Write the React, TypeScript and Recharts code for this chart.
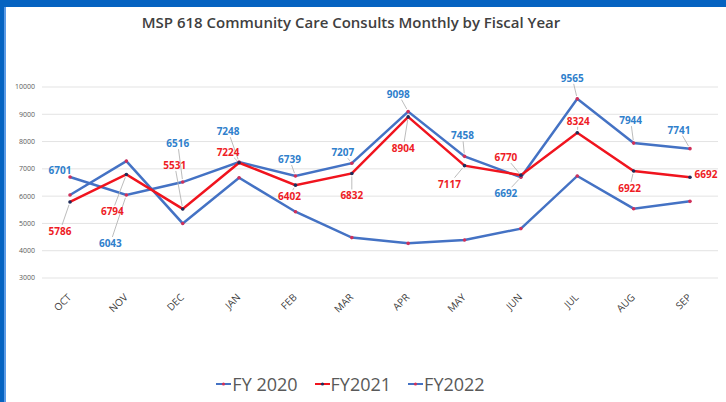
import React from 'react';
import { LineChart, Line, XAxis, YAxis, CartesianGrid, LabelList, Legend } from 'recharts';

const months = ['OCT', 'NOV', 'DEC', 'JAN', 'FEB', 'MAR', 'APR', 'MAY', 'JUN', 'JUL', 'AUG', 'SEP'];
const fy2020 = [6701, 6043, 6516, 7248, 6739, 7207, 9098, 7458, 6692, 9565, 7944, 7741];
const fy2021 = [5786, 6794, 5531, 7224, 6402, 6832, 8904, 7117, 6770, 8324, 6922, 6692];
const fy2022 = [6040, 7285, 5000, 6675, 5430, 4480, 4270, 4395, 4810, 6740, 5540, 5810];
const yTicks = [3000, 4000, 5000, 6000, 7000, 8000, 9000, 10000];

// label placement offsets (pixels from the point), layout only
const offsets2020 = [[-10, -7], [-16, 48], [-5, -39], [-11, -31], [-6, -17], [-9, -11], [-10, -18], [-2, -21], [-15, 16], [-5, -21], [-3, -23], [-11, -19]];
const offsets2021 = [[-10, 29], [-14, 37], [-8, -44], [-11, -11], [-6, 11], [0, 22], [-5, 31], [-15, 18], [-15, -18], [1, -12], [-4, 17], [16, -3]];

const data = months.map((m, i) => ({ month: m, fy2020: fy2020[i], fy2021: fy2021[i], fy2022: fy2022[i] }));

const BLUE = '#4472C4';
const RED = '#F0141E';
const LABEL_BLUE = '#2F80CC';
const LABEL_RED = '#EE1C25';
const FONT = '"Open Sans", "Liberation Sans", sans-serif';

const makeLabel = (offsets: number[][], color: string, series: number[]) => (props: any) => {
  const { x, y, value } = props;
  let index = props.index;
  if (index === undefined || index === null) index = series.indexOf(value);
  const off = offsets[index] || [0, -10];
  const dx = off[0];
  const dy = off[1];
  const tx = x + dx;
  const ty = y + dy;
  const hw = 13;
  const hh = 6;
  const adx = Math.abs(dx);
  const ady = Math.abs(dy);
  let leader = null;
  const t = Math.max(adx / hw, ady / hh);
  if (t > 1.3) {
    const ex = tx - dx / t;
    const ey = ty - dy / t;
    const len = Math.sqrt(dx * dx + dy * dy);
    const sx = x + (dx * 3) / len;
    const sy = y + (dy * 3) / len;
    leader = <line x1={sx} y1={sy} x2={ex} y2={ey} stroke="#B4B4B4" strokeWidth={0.9} />;
  }
  return (
    <g key={`lbl-${color}-${index}`}>
      {leader}
      <text x={tx} y={ty} textAnchor="middle" dominantBaseline="central" fontSize={10} fontWeight={700} fill={color} fontFamily={FONT}>
        {value}
      </text>
    </g>
  );
};

const XTick = (props: any) => {
  const { x, y, payload } = props;
  return (
    <g transform={`translate(${x + 2},${y + 12}) rotate(-45)`}>
      <text x={0} y={0} textAnchor="end" fontSize={10} fill="#404040" fontFamily={FONT}>
        {payload.value}
      </text>
    </g>
  );
};

const LegendIcon = ({ line, dot }: { line: string; dot: string }) => (
  <svg width={15} height={10} style={{ display: 'block', marginRight: 1 }}>
    <line x1={0} y1={5} x2={15} y2={5} stroke={line} strokeWidth={2} />
    <circle cx={7.5} cy={5} r={1.6} fill={dot} />
  </svg>
);

const legendItems = [
  { name: 'FY 2020', line: BLUE, dot: '#D0305A' },
  { name: 'FY2021', line: RED, dot: '#1F2D5A' },
  { name: 'FY2022', line: BLUE, dot: '#D0305A' },
];

const renderLegend = () => (
  <div
    style={{
      height: 78,
      display: 'flex',
      alignItems: 'flex-end',
      justifyContent: 'center',
      paddingRight: 0,
      boxSizing: 'border-box',
    }}
  >
    <div style={{ display: 'flex', alignItems: 'center', height: 24 }}>
      {legendItems.map((it) => (
        <div key={it.name} style={{ display: 'flex', alignItems: 'center', marginRight: 17 }}>
          <LegendIcon line={it.line} dot={it.dot} />
          <span style={{ fontFamily: FONT, fontSize: 18, color: '#595959', lineHeight: '24px' }}>{it.name}</span>
        </div>
      ))}
    </div>
  </div>
);

export default function App() {
  return (
    <div style={{ position: 'absolute', left: 0, top: 0, width: 726, height: 402, background: '#FFFFFF', overflow: 'hidden' }}>
      <div style={{ position: 'absolute', left: 0, top: 0, width: 726, height: 7, background: '#0563C1' }} />
      <div style={{ position: 'absolute', left: 0, top: 0, width: 4, height: 402, background: '#0563C1' }} />
      <div style={{ position: 'absolute', left: 4, top: 7, width: 2, height: 395, background: '#5B9BE6' }} />
      <div
        style={{
          position: 'absolute',
          left: 0,
          top: 12,
          width: 702,
          textAlign: 'center',
          fontFamily: FONT,
          fontSize: 15,
          fontWeight: 600,
          color: '#404040',
          lineHeight: '20px',
        }}
      >
        MSP 618 Community Care Consults Monthly by Fiscal Year
      </div>
      <div style={{ position: 'absolute', left: 0, top: 0 }}>
        <LineChart width={726} height={402} data={data} margin={{ top: 87, right: 8, left: 0, bottom: 6 }}>
          <CartesianGrid horizontal={true} vertical={false} stroke="#E3E3E3" strokeWidth={1} />
          <XAxis
            dataKey="month"
            axisLine={false}
            tickLine={false}
            height={40}
            interval={0}
            padding={{ left: 28, right: 28 }}
            tick={<XTick />}
          />
          <YAxis
            domain={[3000, 10000]}
            ticks={yTicks}
            width={42}
            axisLine={false}
            tickLine={false}
            tickSize={0}
            tickMargin={7}
            tick={{ fontSize: 7, fill: '#595959', fontFamily: FONT }}
          />
          <Legend verticalAlign="bottom" content={renderLegend} />
          <Line
            type="linear"
            dataKey="fy2022"
            name="FY2022"
            stroke={BLUE}
            strokeWidth={2.5}
            dot={{ r: 1.8, fill: '#D0305A', stroke: 'none' }}
            isAnimationActive={false}
          />
          <Line
            type="linear"
            dataKey="fy2020"
            name="FY 2020"
            stroke={BLUE}
            strokeWidth={2.5}
            dot={{ r: 1.8, fill: '#D0305A', stroke: 'none' }}
            isAnimationActive={false}
          >
            <LabelList dataKey="fy2020" content={makeLabel(offsets2020, LABEL_BLUE, fy2020)} />
          </Line>
          <Line
            type="linear"
            dataKey="fy2021"
            name="FY2021"
            stroke={RED}
            strokeWidth={2.5}
            dot={{ r: 1.8, fill: '#1F2D5A', stroke: 'none' }}
            isAnimationActive={false}
          >
            <LabelList dataKey="fy2021" content={makeLabel(offsets2021, LABEL_RED, fy2021)} />
          </Line>
        </LineChart>
      </div>
    </div>
  );
}
